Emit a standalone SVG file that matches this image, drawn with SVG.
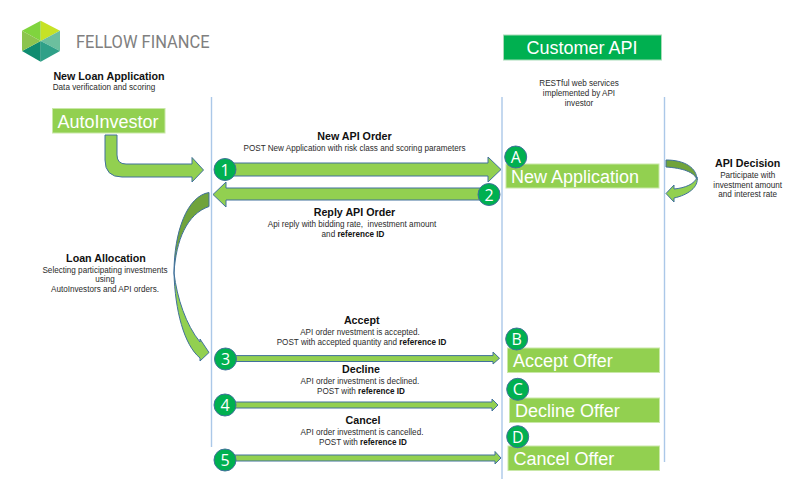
<svg xmlns="http://www.w3.org/2000/svg" width="804" height="496" viewBox="0 0 804 496">
<style>
text{font-family:"Liberation Sans",Arial,sans-serif;fill:#1f1f1f}
.h{font-size:10.7px;font-weight:700;text-anchor:middle;fill:#111}
.s{font-size:8.15px;text-anchor:middle;fill:#2b2b2b}
.s tspan{font-weight:700;fill:#111}
.box{fill:#92d050;stroke:#c9e8a8;stroke-width:1}
.cap{font-size:18px;fill:#fff}
.arrow{fill:#92d050;stroke:#41719c;stroke-width:1;stroke-linejoin:miter}
.dark{fill:#70a33c;stroke:#41719c;stroke-width:1}
.dot{fill:#00b050;stroke:#41719c;stroke-width:1}
.num{font-size:16px;fill:#fff;text-anchor:middle;font-family:"Open Sans","Liberation Sans",sans-serif}
.lane{stroke:#abc8e8;stroke-width:1.4;fill:none}
</style>
<g id="logo">
<polygon points="40.7,41 22,30.7 40.7,20.7" fill="#80d43e"/>
<polygon points="40.7,41 40.7,20.7 60,30.7" fill="#c6e226"/>
<polygon points="40.7,41 60,30.7 60,51" fill="#6cbf9e"/>
<polygon points="40.7,41 60,51 40.7,61.7" fill="#2fa088"/>
<polygon points="40.7,41 40.7,61.7 22,51" fill="#0f8c70"/>
<polygon points="40.7,41 22,51 22,30.7" fill="#8cc44e"/>
<text x="76" y="47.7" font-size="18" textLength="133.5" lengthAdjust="spacingAndGlyphs" style="font-family:Roboto,'Liberation Sans',sans-serif;fill:#808080">FELLOW FINANCE</text>
</g>
<g id="lanes">
<line class="lane" x1="211.5" y1="97" x2="211.5" y2="447"/>
<line class="lane" x1="502" y1="97" x2="502" y2="479"/>
<line class="lane" x1="664.5" y1="97" x2="664.5" y2="462"/>
</g>
<g id="connectors">
<path class="arrow" d="M105,135H117V155Q117,164 126,164H192V157.5L203.5,170L192,182V177H122Q105,177 105,160Z"/>
<path class="arrow" d="M230,163H488V157L501,169.5L488,182V176H230Z"/>
<path class="arrow" d="M226,182V188H484V200H226V207L213,194.5Z"/>
<path class="dark" d="M209,192.5C187,196 174,232 174,273C176,240 187,214 209,206.5Z"/>
<path class="arrow" d="M174,273C175,310 184,345 200,358V361L209,352.5L200,339V342C186,325 177,298 174,273Z"/>
<path class="dark" d="M666,160C685,160 697,168 697,180C695,172 682,168 666,167Z"/>
<path class="arrow" d="M697,177C699,187 688,195 674,198V202L666,193.5L674,185V189C685,188 695,184 697,177Z"/>
<path class="arrow" d="M230,355.6H493V352L499.5,358.3L493,364V361.5H230Z"/>
<path class="arrow" d="M230,402H492V399L498,405L492,411V408H230Z"/>
<path class="arrow" d="M230,455H495V451.5L501,458L495,464V461H230Z"/>
</g>
<g id="customer-api"><rect x="503.5" y="35" width="158" height="25" fill="#00b050" stroke="#a8dcb8"/><text class="cap" x="526.5" y="54">Customer API</text></g>
<g id="autoinvestor"><rect class="box" x="52.5" y="108.5" width="112.5" height="24.5"/><text class="cap" x="57.5" y="127.5">AutoInvestor</text></g>
<g id="new-application"><rect class="box" x="506" y="164" width="153" height="24"/><text class="cap" x="511" y="183">New Application</text></g>
<g id="accept-offer"><rect class="box" x="507.5" y="348" width="152" height="24.5"/><text class="cap" x="513" y="367">Accept Offer</text></g>
<g id="decline-offer"><rect class="box" x="509.5" y="398" width="150" height="24.5"/><text class="cap" x="515" y="417">Decline Offer</text></g>
<g id="cancel-offer"><rect class="box" x="508" y="446" width="151.5" height="24.5"/><text class="cap" x="513.5" y="465">Cancel Offer</text></g>
<g id="step-1"><circle class="dot" cx="225" cy="169.5" r="11"/><text class="num" x="225" y="175.5">1</text></g>
<g id="step-2"><circle class="dot" cx="489" cy="194.5" r="11"/><text class="num" x="489" y="200.5">2</text></g>
<g id="step-3"><circle class="dot" cx="225.5" cy="359" r="11"/><text class="num" x="225.5" y="365">3</text></g>
<g id="step-4"><circle class="dot" cx="225" cy="405" r="11"/><text class="num" x="225" y="411">4</text></g>
<g id="step-5"><circle class="dot" cx="225" cy="460" r="11"/><text class="num" x="225" y="466">5</text></g>
<g id="step-a"><circle class="dot" cx="515.7" cy="157" r="11"/><text class="num" x="515.7" y="163">A</text></g>
<g id="step-b"><circle class="dot" cx="516.7" cy="339" r="11"/><text class="num" x="516.7" y="345">B</text></g>
<g id="step-c"><circle class="dot" cx="517.7" cy="389.3" r="11"/><text class="num" x="517.7" y="395.3">C</text></g>
<g id="step-d"><circle class="dot" cx="517.7" cy="436.7" r="11"/><text class="num" x="517.7" y="442.7">D</text></g>
<g id="labels">
<text class="h" x="109" y="80">New Loan Application</text>
<text class="s" x="104" y="90">Data verification and scoring</text>
<text class="s" x="579" y="86">RESTful web services</text>
<text class="s" x="579" y="96">implemented by API</text>
<text class="s" x="579" y="105.5">investor</text>
<text class="h" x="354.5" y="140">New API Order</text>
<text class="s" x="354.5" y="151">POST New Application with risk class and scoring parameters</text>
<text class="h" x="354.5" y="216">Reply API Order</text>
<text class="s" x="352" y="227" style="white-space:pre">Api reply with bidding rate,  investment amount</text>
<text class="s" x="353" y="237">and <tspan>reference ID</tspan></text>
<text class="h" x="747.7" y="167">API Decision</text>
<text class="s" x="747.7" y="178">Participate with</text>
<text class="s" x="747.7" y="187.5">investment amount</text>
<text class="s" x="747.7" y="197">and interest rate</text>
<text class="h" x="106" y="262">Loan Allocation</text>
<text class="s" x="105" y="272.5">Selecting participating investments</text>
<text class="s" x="105" y="282">using</text>
<text class="s" x="105" y="292">AutoInvestors and API orders.</text>
<text class="h" x="361.7" y="324">Accept</text>
<text class="s" x="360" y="335">API order nvestment is accepted.</text>
<text class="s" x="361.5" y="345">POST with accepted quantity and <tspan>reference ID</tspan></text>
<text class="h" x="361" y="373">Decline</text>
<text class="s" x="360" y="384">API order investment is declined.</text>
<text class="s" x="361" y="394">POST with <tspan>reference ID</tspan></text>
<text class="h" x="363" y="424">Cancel</text>
<text class="s" x="362" y="435">API order investment is cancelled.</text>
<text class="s" x="363" y="445">POST with <tspan>reference ID</tspan></text>
</g>
</svg>
